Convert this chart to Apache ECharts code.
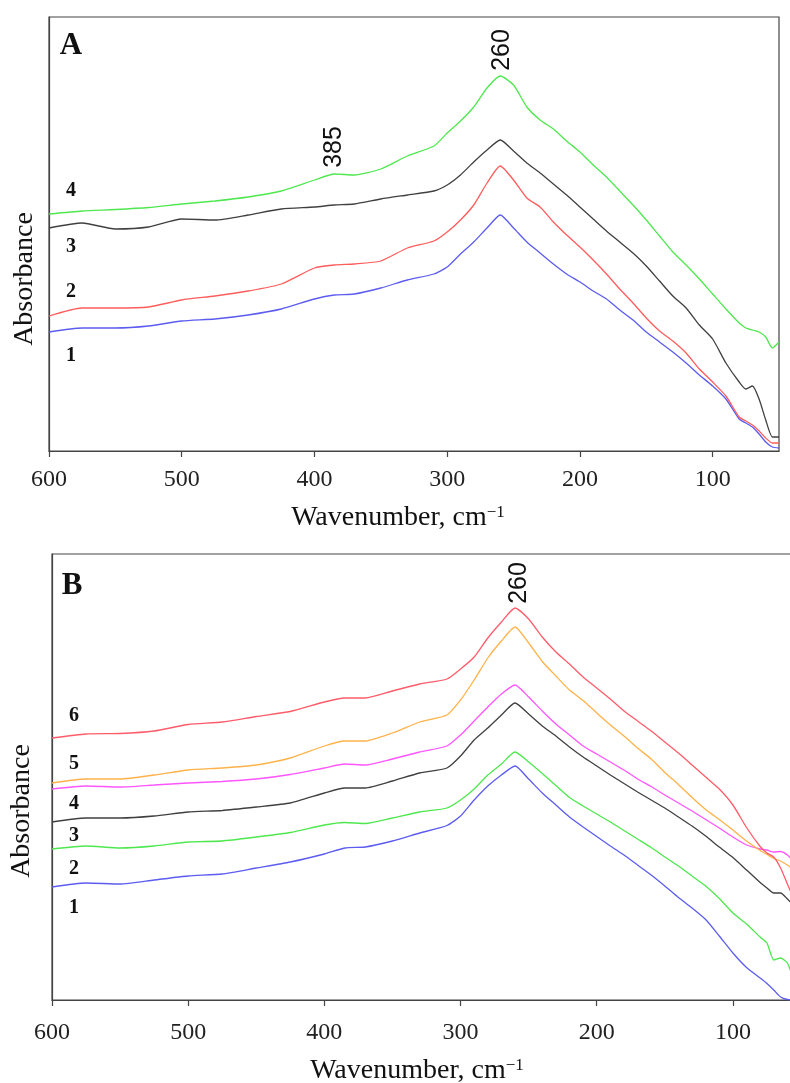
<!DOCTYPE html>
<html><head><meta charset="utf-8">
<script src="https://cdn.jsdelivr.net/npm/echarts@6/dist/echarts.min.js"></script>
<style>html,body{margin:0;padding:0;background:#fff}#c{width:790px;height:1083px}</style>
</head><body><div id="c"></div>
<script>
// Wavenumber grid (cm-1), shared by all curves
const wavenumbers = [600,575,550,525,500,475,450,425,400,385,370,350,330,310,300,290,280,270,260,250,240,230,220,210,200,190,180,170,160,150,140,130,120,110,100,90,80,75,70,65,60,55,50];
const xTicks = [600,500,400,300,200,100];

// Panel A (arbitrary absorbance units)
const a1 = [119,123,123,125,130,132,136,142,152,156,157,163,171,177,184,197,209,223,236,223,209,198,187,177,169,160,152,141,131,119,109,99,88,76,65,52,32,28,24,17,9,4,3];
const a2 = [135,143,143,144,151,155,160,167,183,186,187,190,203,210,219,231,246,268,285,271,253,244,229,216,204,191,177,162,148,133,120,110,98,82,69,55,34,30,26,20,13,8,8];
const a3 = [223,228,222,224,232,231,236,242,244,246,247,252,256,260,266,276,289,301,311,300,288,278,267,256,244,232,220,209,198,185,170,155,143,126,112,88,69,62,65,52,31,14,14];
const a4 = [237,240,241.5,243.5,247,250,254,260,271,277,276,282,295,305,318,330,344,363,375,366,344,331,322,310,299,286,274,260,246,231,215,199,186,172,157,142,128,123,121,119,114,103,109];

// Panel B (arbitrary absorbance units)
const b1 = [113,117,116,120,124,126,132,138,146,152,153,159,167,174.5,184,200,214,225,234,221,207,195,183,173,163.5,154,145,135,125,114,102.5,92,80.5,64,47,32.5,22,16.5,10,3,0.5,0,0];
const b2 = [151,154,152,154,158,159,163,167.5,175,177.5,176.5,182,188,192,200,211,225,236,248,238,226.5,214.5,202.5,194,186,178,169.5,161,152.5,143,134,124,114,101.5,87,76,63,57,40,42,37,20,10];
const b3 = [178,182,182,184,188,189.5,193,197,207,212,212,219,227,232,244,260,272,285,297,286,274,264,253,243,234,225,216.5,208,200,192,183,174,164,153,142.5,130,117.5,112,107,107,101,94,88];
const b4 = [211,214,213,215,217,218.5,221,225.5,232,236,235,241,248,254,265,279,293,306,315,303,289,276,265,254,246,238,230,221,213.5,205,197,189,180.5,172,163,155,151,150,148,148.5,145,138,132];
const b5 = [217,221,221,225,230,232,235,242,254,259,259,267,278,285,300,320,342,359,373,357,338.5,324,310,299.5,287,275,264,252,241,227.5,215.5,202.5,190.5,180.5,170,159,149.5,145.5,141.5,139,135,130,125];
const b6 = [262,266,266.5,269,275.5,278,283.5,288.5,298,302,302,309,316,321,331,343,362,378,392,381,363,348,336,323,312,301,289,279,269,258,247,235,223,211,195,172.5,153.5,147,143,132,116,100,85];

const serif = '"Liberation Serif","Times New Roman",serif';
const sans = '"Liberation Sans",Arial,sans-serif';

function pts(vals){ return wavenumbers.map((w,i)=>[w, vals[i]]); }
function line(name, vals, color, gi){
  return {type:'line', name, xAxisIndex:gi, yAxisIndex:gi, data:pts(vals),
    showSymbol:false, symbol:'none', smooth:0.2, clip:true,
    lineStyle:{color, width:1.3}, itemStyle:{color}, silent:true, animation:false, z:3};
}
function xAx(gi){
  return {type:'value', gridIndex:gi, inverse:true, min:50, max:600,
    axisLine:{show:true, lineStyle:{color:'#444', width:1.2}},
    axisTick:{show:true, inside:false, length:6, lineStyle:{color:'#444', width:1.2}},
    axisLabel:{show:true, showMinLabel:false, margin: gi===0?17:21, color:'#222', fontFamily:serif, fontSize:24,
      formatter:v=> xTicks.indexOf(v)>=0 ? String(v) : ''},
    splitLine:{show:false}};
}
function yAx(gi, max){
  return {type:'value', gridIndex:gi, min:0, max,
    axisLine:{show:true, lineStyle:{color:'#444', width:1.2}},
    axisTick:{show:false}, axisLabel:{show:false}, splitLine:{show:false}};
}

const chart = echarts.init(document.getElementById('c'), null, {renderer:'canvas'});
const option = {
  animation:false,
  backgroundColor:'#fff',
  grid:[
    {left:49, top:17, width:730, height:434, show:true, borderColor:'#444', borderWidth:1.2, backgroundColor:'transparent', containLabel:false, outerBoundsMode:'none'},
    {left:52, top:554, width:749, height:446, show:true, borderColor:'#444', borderWidth:1.2, backgroundColor:'transparent', containLabel:false, outerBoundsMode:'none'}
  ],
  xAxis:[xAx(0), xAx(1)],
  yAxis:[yAx(0,434), yAx(1,446)],
  series:[
    line('1', a1, '#5c5cf0', 0),
    line('2', a2, '#ff5c5c', 0),
    line('3', a3, '#404040', 0),
    line('4', a4, '#4ee84e', 0),
    line('1', b1, '#5c5cf0', 1),
    line('2', b2, '#4ee84e', 1),
    line('3', b3, '#404040', 1),
    line('4', b4, '#ff55ff', 1),
    line('5', b5, '#ffb24a', 1),
    line('6', b6, '#ff5c6a', 1)
  ]
};
chart.setOption(option);

function txt(text, x, y, opt){
  opt = opt || {};
  return {type:'text', x, y, rotation:opt.rot||0, z:10, silent:true,
    style:{text, fill:'#111', font:(opt.weight||'normal')+' '+(opt.size||20)+'px '+(opt.family||serif),
      align:'center', verticalAlign:'middle', rich:opt.rich}};
}
function idxOf(w){ return wavenumbers.indexOf(w); }
const pA260 = chart.convertToPixel({gridIndex:0}, [260, a4[idxOf(260)]]);
const pA385 = chart.convertToPixel({gridIndex:0}, [385, a4[idxOf(385)]]);
const pB260 = chart.convertToPixel({gridIndex:1}, [260, b6[idxOf(260)]]);

const xTitleRich = {
  a:{fontFamily:serif, fontSize:28, fill:'#111'},
  s:{fontFamily:serif, fontSize:17, fill:'#111', verticalAlign:'top'}
};
const graphics = [
  txt('A', 71, 46, {weight:'bold', size:31}),
  txt('B', 72, 586, {weight:'bold', size:31}),
  txt('4', 71, 191, {weight:'bold', size:20}),
  txt('3', 71, 247, {weight:'bold', size:20}),
  txt('2', 71, 292, {weight:'bold', size:20}),
  txt('1', 71, 356, {weight:'bold', size:20}),
  txt('6', 74, 716, {weight:'bold', size:20}),
  txt('5', 74, 764, {weight:'bold', size:20}),
  txt('4', 74, 804, {weight:'bold', size:20}),
  txt('3', 74, 836, {weight:'bold', size:20}),
  txt('2', 74, 869, {weight:'bold', size:20}),
  txt('1', 74, 908, {weight:'bold', size:20}),
  txt('Absorbance', 25, 279, {size:28, rot:Math.PI/2}),
  txt('Absorbance', 22, 811, {size:28, rot:Math.PI/2}),
  txt('{a|Wavenumber, cm}{s|\u22121}', 398, 518, {size:28, rich:xTitleRich}),
  txt('{a|Wavenumber, cm}{s|\u22121}', 417, 1071, {size:28, rich:xTitleRich}),
  txt('260', pA260[0]+2, pA260[1]-26, {size:25, family:sans, rot:Math.PI/2}),
  txt('385', pA385[0], pA385[1]-27, {size:25, family:sans, rot:Math.PI/2}),
  txt('260', pB260[0]+4, pB260[1]-25, {size:25, family:sans, rot:Math.PI/2})
];
chart.setOption({graphic:graphics});
</script>
</body></html>
